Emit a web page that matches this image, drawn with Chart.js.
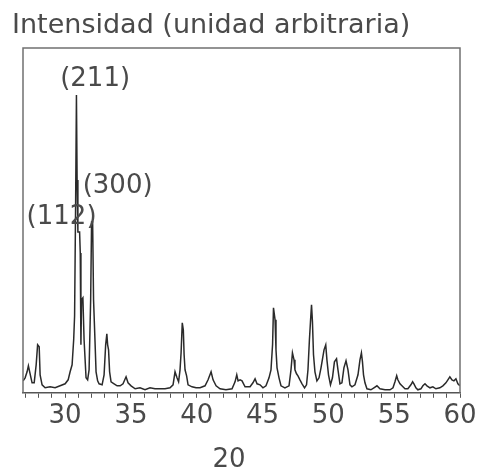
<!DOCTYPE html>
<html>
<head>
<meta charset="utf-8">
<script src="https://cdn.jsdelivr.net/npm/chart.js@4"></script>
<style>
    html, body { margin: 0; padding: 0; background: #fff; }
    #wrap { width: 480px; height: 472px; }
</style>
</head>
<body>
<div id="wrap"><canvas id="xrd"></canvas></div>
<script>
// 2θ positions (degrees) and intensity (arbitrary units)
const twoTheta = [
    26.81, 26.96, 27.11, 27.21, 27.34, 27.49, 27.65, 27.80, 27.91, 28.03, 28.10, 28.25, 28.48, 28.86, 29.24, 29.62,
    30.00, 30.23, 30.38, 30.53, 30.65, 30.72, 30.80, 30.86, 30.91, 30.97, 31.10, 31.15, 31.20, 31.25, 31.35, 31.44,
    31.59, 31.71, 31.82, 31.94, 32.01, 32.09, 32.16, 32.28, 32.35, 32.47, 32.58, 32.81, 32.96, 33.08, 33.17, 33.23,
    33.30, 33.38, 33.49, 33.72, 33.95, 34.18, 34.40, 34.63, 34.78, 35.01, 35.32, 35.69, 36.07, 36.45, 36.83, 37.21,
    37.59, 37.97, 38.20, 38.35, 38.50, 38.62, 38.73, 38.81, 38.90, 38.98, 39.04, 39.11, 39.23, 39.34, 39.64, 39.95,
    40.25, 40.63, 40.86, 41.09, 41.24, 41.47, 41.77, 42.22, 42.68, 42.91, 43.04, 43.14, 43.29, 43.44, 43.67, 44.05,
    44.27, 44.43, 44.58, 44.81, 45.03, 45.26, 45.49, 45.64, 45.76, 45.83, 45.95, 46.02, 46.10, 46.25, 46.40, 46.70,
    47.01, 47.16, 47.27, 47.39, 47.46, 47.58, 47.69, 47.84, 48.00, 48.19, 48.34, 48.45, 48.56, 48.64, 48.72, 48.79,
    48.87, 48.98, 49.13, 49.29, 49.44, 49.67, 49.80, 49.89, 50.01, 50.16, 50.31, 50.46, 50.62, 50.73, 50.88, 51.03,
    51.18, 51.34, 51.49, 51.64, 51.79, 52.02, 52.25, 52.40, 52.51, 52.59, 52.67, 52.78, 52.93, 53.23, 53.46, 53.69,
    53.92, 54.30, 54.68, 54.91, 55.06, 55.19, 55.28, 55.44, 55.59, 55.82, 56.04, 56.27, 56.40, 56.50, 56.65, 56.80,
    57.03, 57.18, 57.34, 57.49, 57.72, 57.94, 58.17, 58.47, 58.70, 58.93, 59.08, 59.23, 59.39, 59.54, 59.69, 59.84,
    59.99
];
const intensity = [
    12, 15, 21, 27, 19, 10, 10, 28, 48, 46, 18, 8, 5, 6, 5, 7,
    9, 13, 21, 28, 53, 77, 193, 298, 213, 161, 161, 140, 48, 93, 95, 53,
    15, 13, 23, 93, 171, 171, 93, 48, 21, 12, 9, 8, 18, 48, 59, 48,
    43, 21, 11, 9, 7, 7, 9, 16, 10, 7, 4, 5, 3, 5, 4, 4,
    4, 5, 8, 21, 15, 11, 23, 40, 70, 63, 38, 23, 17, 8, 6, 5,
    5, 7, 13, 21, 13, 7, 4, 3, 4, 11, 18, 12, 13, 12, 6, 6,
    10, 14, 9, 8, 5, 7, 15, 23, 48, 85, 73, 43, 25, 15, 7, 5,
    7, 23, 40, 33, 23, 19, 17, 13, 9, 5, 8, 23, 53, 71, 88, 71,
    38, 21, 12, 15, 25, 43, 48, 33, 18, 8, 15, 31, 34, 23, 9, 10,
    25, 32, 23, 8, 6, 8, 18, 33, 40, 31, 18, 10, 4, 3, 5, 7,
    4, 3, 3, 5, 11, 17, 13, 9, 7, 4, 4, 8, 11, 9, 5, 3,
    4, 7, 9, 7, 5, 6, 4, 5, 7, 10, 13, 16, 13, 12, 14, 9,
    7
];

// Miller index labels, placed in data coordinates
const peakLabels = ['(211)', '(300)', '(112)'];
const labelTheta = [32.28, 33.99, 29.73];
const labelIntensity = [314, 207, 176];

const xTickLabels = [30, 35, 40, 45, 50, 55, 60];
const xMin = 26.8, xMax = 60;
const yMax = 345;

const FONT = '"DejaVu Sans", Verdana, sans-serif';
const TEXT_COLOR = '#4a4a4a';

const textPlugin = {
    id: 'xrdText',
    afterDraw(chart) {
        const ctx = chart.ctx;
        const area = chart.chartArea;
        const xs = chart.scales.x, ys = chart.scales.y;

        ctx.save();
        // frame on top, left and right (bottom comes from the x axis)
        ctx.strokeStyle = '#707070';
        ctx.lineWidth = 1.5;
        ctx.beginPath();
        ctx.moveTo(area.left, area.bottom);
        ctx.lineTo(area.left, area.top);
        ctx.lineTo(area.right, area.top);
        ctx.lineTo(area.right, area.bottom);
        ctx.stroke();

        ctx.fillStyle = TEXT_COLOR;
        ctx.font = '27px ' + FONT;
        ctx.textBaseline = 'alphabetic';
        ctx.textAlign = 'left';
        ctx.fillText('Intensidad (unidad arbitraria)', 12, 33);

        ctx.font = '26px ' + FONT;
        ctx.textAlign = 'center';
        ctx.fillText('20', 229, 467);

        ctx.textBaseline = 'middle';
        peakLabels.forEach((txt, i) => {
            ctx.fillText(txt, xs.getPixelForValue(labelTheta[i]), ys.getPixelForValue(labelIntensity[i]));
        });
        ctx.restore();
    }
};

document.addEventListener('DOMContentLoaded', () => {
    const points = twoTheta.map((t, i) => ({ x: t, y: intensity[i] }));

    new Chart(document.getElementById('xrd'), {
        type: 'line',
        data: {
            datasets: [{
                data: points,
                borderColor: '#2a2a2a',
                borderWidth: 1.5,
                pointRadius: 0,
                tension: 0,
                fill: false
            }]
        },
        options: {
            responsive: true,
            maintainAspectRatio: false,
            animation: false,
            layout: {
                padding: { left: 23, right: 20, top: 48, bottom: 37 }
            },
            plugins: {
                legend: { display: false },
                tooltip: { enabled: false }
            },
            scales: {
                x: {
                    type: 'linear',
                    min: xMin,
                    max: xMax,
                    afterBuildTicks: scale => {
                        const ticks = [];
                        for (let v = Math.ceil(xMin); v <= xMax; v++) {
                            ticks.push({ value: v });
                        }
                        scale.ticks = ticks;
                    },
                    ticks: {
                        autoSkip: false,
                        maxRotation: 0,
                        padding: 3,
                        color: TEXT_COLOR,
                        font: { family: FONT, size: 26 },
                        callback: v => xTickLabels.includes(v) ? String(v) : ''
                    },
                    grid: {
                        drawOnChartArea: false,
                        drawTicks: true,
                        tickLength: 5,
                        color: '#555'
                    },
                    border: { display: true, color: '#555', width: 1.5 }
                },
                y: {
                    display: false,
                    min: 0,
                    max: yMax
                }
            }
        },
        plugins: [textPlugin]
    });
});
</script>
</body>
</html>
